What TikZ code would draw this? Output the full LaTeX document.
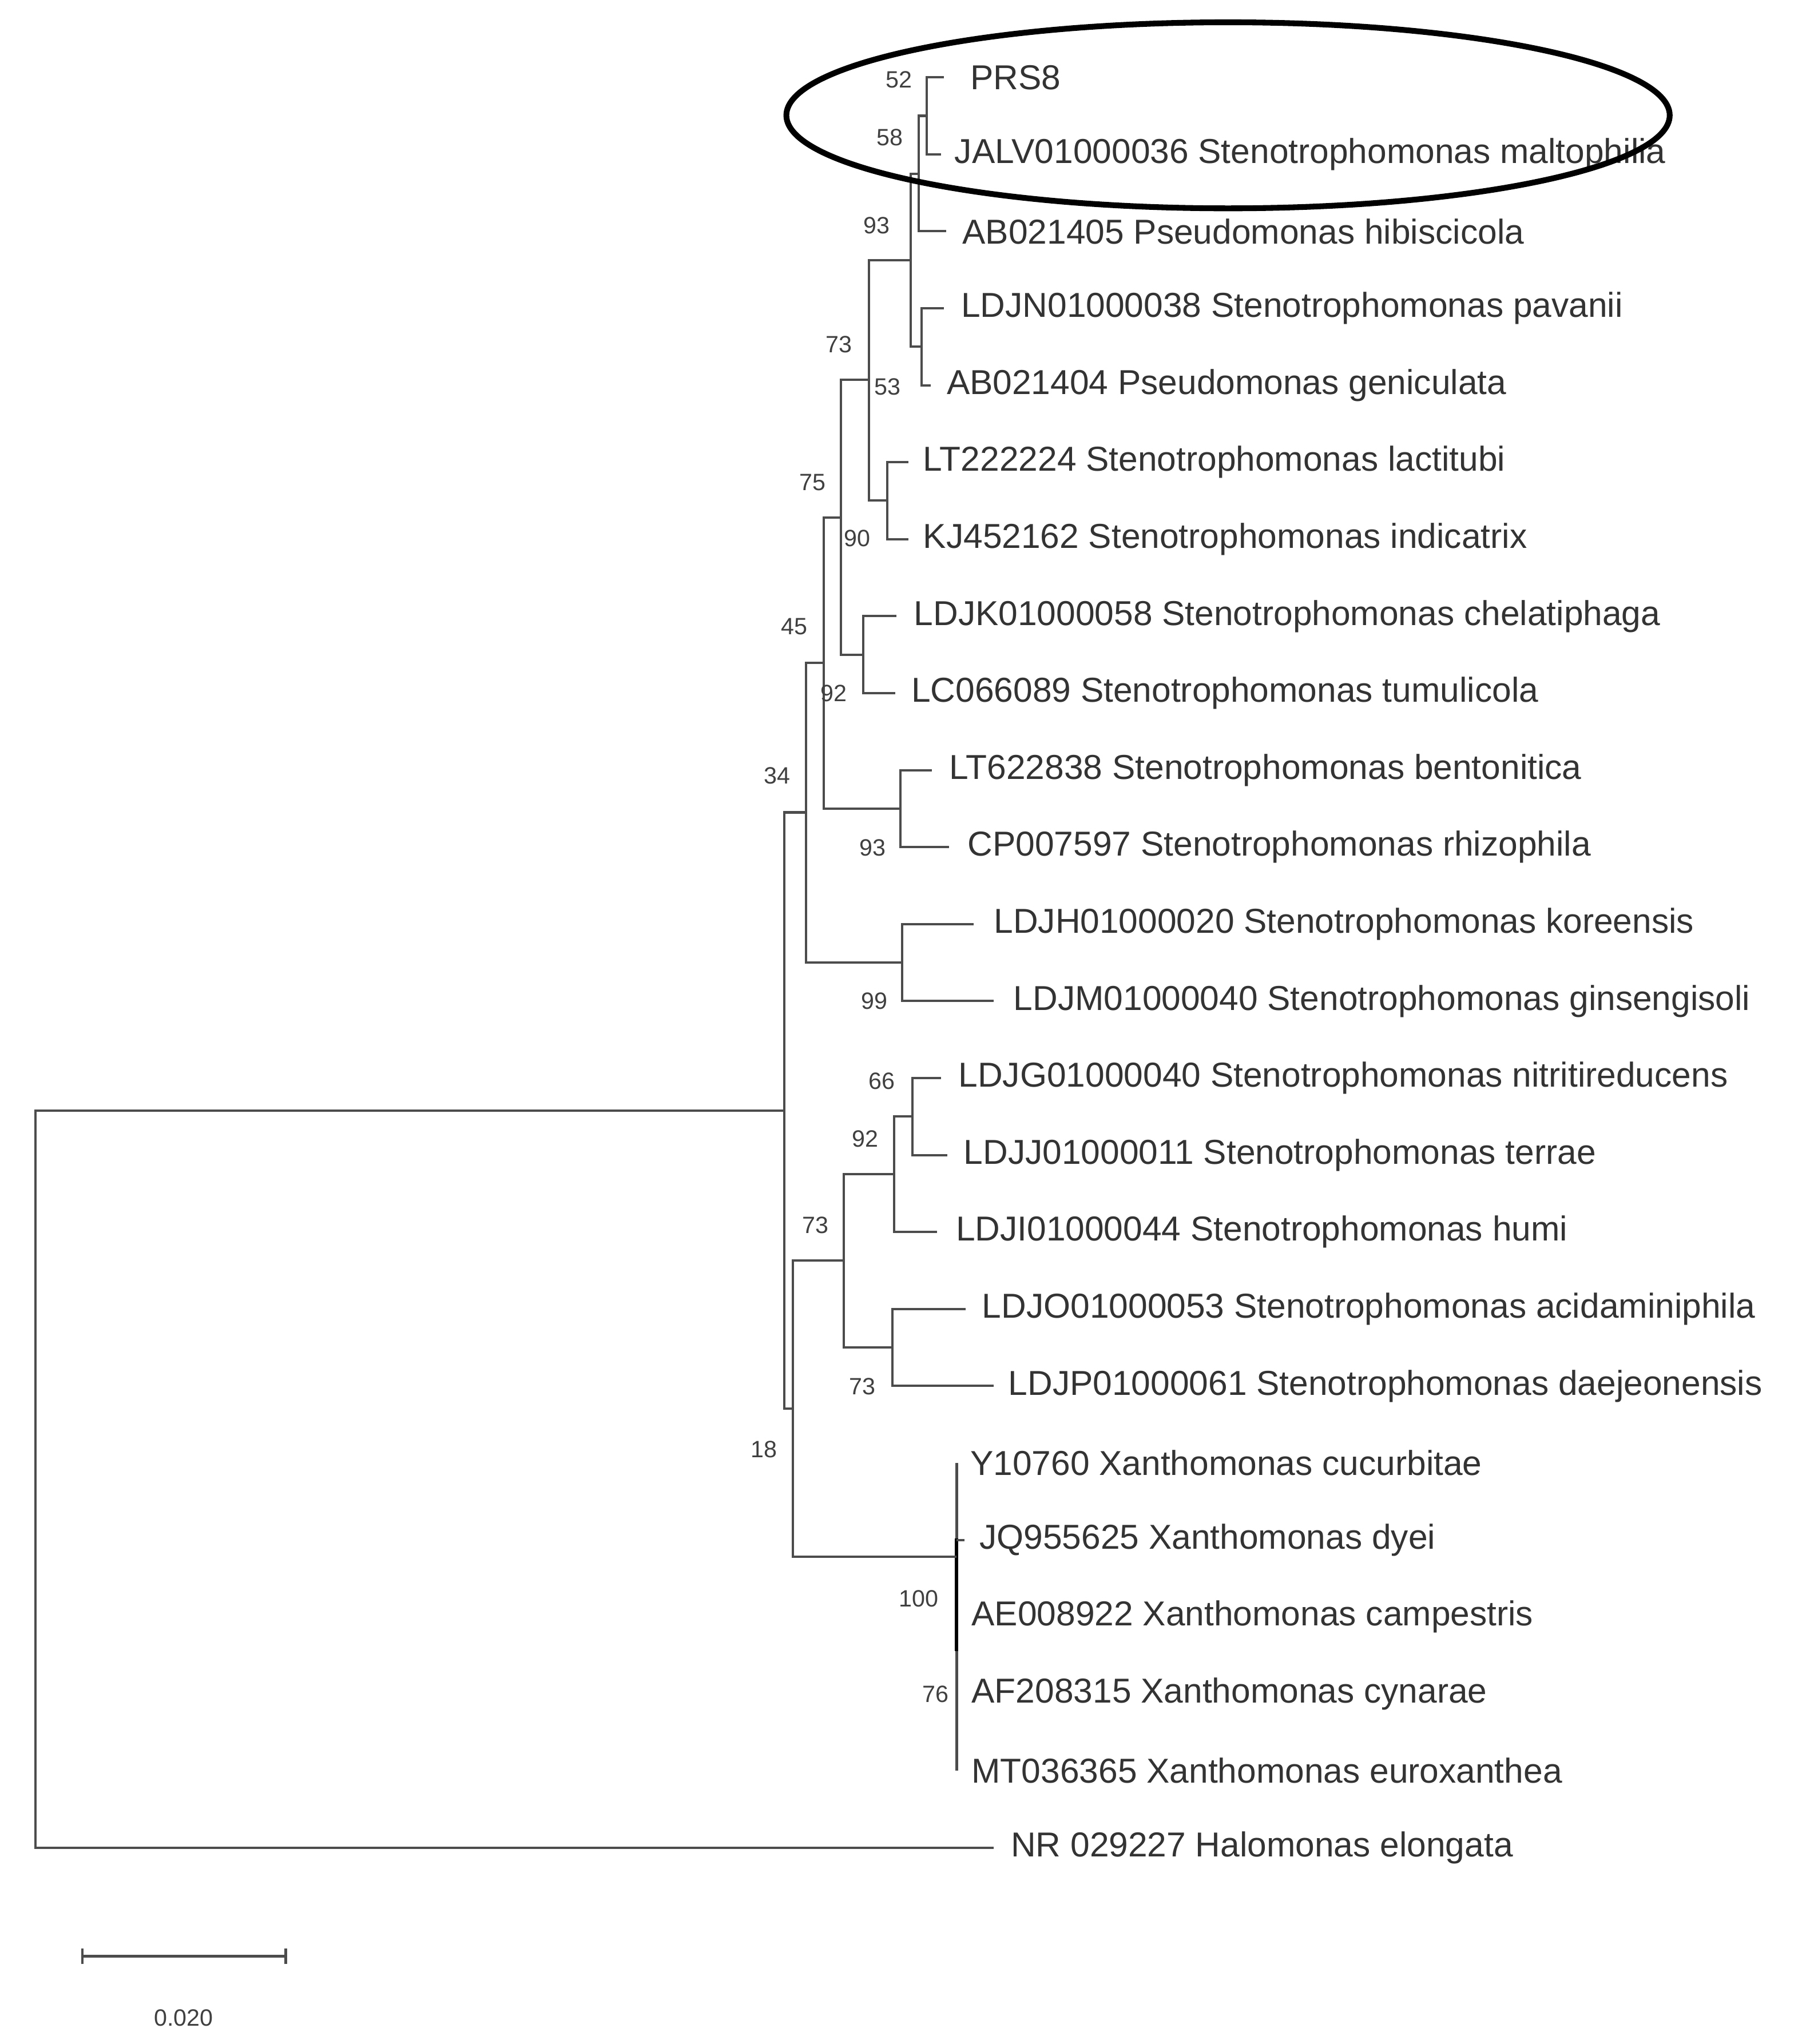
\documentclass[tikz,border=0pt]{standalone}
\usepackage{fontspec}
\setmainfont{Liberation Sans}
\usetikzlibrary{shapes.geometric}
\begin{document}
\begin{tikzpicture}[x=0.5pt,y=-0.5pt,
  br/.style={draw=black!70,line width=0.9pt},
  leaf/.style={anchor=west,inner sep=0pt,font=\fontsize{13.2}{15}\selectfont,text=black!80},
  boot/.style={inner sep=0pt,font=\fontsize{9}{10}\selectfont,text=black!75}]
\useasboundingbox (0,0) rectangle (1384,1560);
\fill[white] (0,0) rectangle (1384,1560);
% leaves
\node[leaf] (l1) at (740,59) {PRS8};
\node[leaf] (l2) at (728,117.75) {JALV01000036 Stenotrophomonas maltophilia};
\node[leaf] (l3) at (734,176.5) {AB021405 Pseudomonas hibiscicola};
\node[leaf] (l4) at (733,235.25) {LDJN01000038 Stenotrophomonas pavanii};
\node[leaf] (l5) at (722,294) {AB021404 Pseudomonas geniculata};
\node[leaf] (l6) at (704,352.75) {LT222224 Stenotrophomonas lactitubi};
\node[leaf] (l7) at (704,411.5) {KJ452162 Stenotrophomonas indicatrix};
\node[leaf] (l8) at (697,470.25) {LDJK01000058 Stenotrophomonas chelatiphaga};
\node[leaf] (l9) at (695,529) {LC066089 Stenotrophomonas tumulicola};
\node[leaf] (l10) at (724,587.75) {LT622838 Stenotrophomonas bentonitica};
\node[leaf] (l11) at (738,646.5) {CP007597 Stenotrophomonas rhizophila};
\node[leaf] (l12) at (758,705.25) {LDJH01000020 Stenotrophomonas koreensis};
\node[leaf] (l13) at (773,764) {LDJM01000040 Stenotrophomonas ginsengisoli};
\node[leaf] (l14) at (731,822.75) {LDJG01000040 Stenotrophomonas nitritireducens};
\node[leaf] (l15) at (735,881.5) {LDJJ01000011 Stenotrophomonas terrae};
\node[leaf] (l16) at (729,940.25) {LDJI01000044 Stenotrophomonas humi};
\node[leaf] (l17) at (749,999) {LDJO01000053 Stenotrophomonas acidaminiphila};
\node[leaf] (l18) at (769,1057.75) {LDJP01000061 Stenotrophomonas daejeonensis};
\node[leaf] (l19) at (740,1116.5) {Y10760 Xanthomonas cucurbitae};
\node[leaf] (l20) at (747,1175.25) {JQ955625 Xanthomonas dyei};
\node[leaf] (l21) at (741,1234) {AE008922 Xanthomonas campestris};
\node[leaf] (l22) at (741,1292.75) {AF208315 Xanthomonas cynarae};
\node[leaf] (l23) at (741,1351.5) {MT036365 Xanthomonas euroxanthea};
\node[leaf] (l24) at (771,1410.25) {NR 029227 Halomonas elongata};
% internal node coordinates
\coordinate (A) at (707,88.4);
\coordinate (B) at (701,132.5);
\coordinate (D) at (703,264.6);
\coordinate (C) at (695,198.5);
\coordinate (F) at (677,382);
\coordinate (E) at (663,290);
\coordinate (H) at (658.5,499.6);
\coordinate (G) at (641.5,395);
\coordinate (J) at (687,617);
\coordinate (I) at (628.6,506);
\coordinate (L) at (688.5,734.6);
\coordinate (K) at (615,620);
\coordinate (R) at (696,852);
\coordinate (P) at (682.4,896);
\coordinate (Q) at (681,1028.4);
\coordinate (O) at (644,962);
\coordinate (X) at (730,1188);
\coordinate (N) at (605,1075);
\coordinate (M) at (598.5,847.5);
\coordinate (Rt) at (27,847.5);
% branches
\draw[br] (720,59) -| (A |- 0,117.75) -- (718,117.75);
\draw[br] (A) -| (B |- 0,176.5) -- (722,176.5);
\draw[br] (720,235.25) -| (D |- 0,294) -- (710,294);
\draw[br] (B) -| (C |- D) -- (D);
\draw[br] (693,352.75) -| (F |- 0,411.5) -- (693,411.5);
\draw[br] (C) -| (E |- F) -- (F);
\draw[br] (684,470.25) -| (H |- 0,529) -- (683,529);
\draw[br] (E) -| (G |- H) -- (H);
\draw[br] (711,587.75) -| (J |- 0,646.5) -- (724,646.5);
\draw[br] (G) -| (I |- J) -- (J);
\draw[br] (743,705.25) -| (L |- 0,764) -- (758,764);
\draw[br] (I) -| (K |- L) -- (L);
\draw[br] (718,822.75) -| (R |- 0,881.5) -- (723,881.5);
\draw[br] (R) -| (P |- 0,940.25) -- (715,940.25);
\draw[br] (737,999) -| (Q |- 0,1057.75) -- (758,1057.75);
\draw[br] (P) -| (O |- Q) -- (Q);
\draw[br] (X |- 0,1116.5) -- (X |- 0,1351.5);
\draw[draw=black,line width=1.3pt] (X |- 0,1174) -- (X |- 0,1260);
\draw[br] (X |- 0,1175.25) -- (736,1175.25);
\draw[br] (O) -| (N |- X) -- (X);
\draw[br] (K) -| (M |- N) -- (N);
\draw[br] (M) -- (Rt) -- (Rt |- 0,1410.25) -- (758,1410.25);
% bootstrap values
\node[boot] at (686,61) {52};
\node[boot] at (679,105) {58};
\node[boot] at (669,172) {93};
\node[boot] at (640,263) {73};
\node[boot] at (677,295) {53};
\node[boot] at (620,368) {75};
\node[boot] at (654,411) {90};
\node[boot] at (606,478) {45};
\node[boot] at (636,529) {92};
\node[boot] at (593,592) {34};
\node[boot] at (666,647) {93};
\node[boot] at (667,764) {99};
\node[boot] at (673,825) {66};
\node[boot] at (660,869) {92};
\node[boot] at (622,935) {73};
\node[boot] at (658,1058) {73};
\node[boot] at (583,1106) {18};
\node[boot] at (701,1220) {100};
\node[boot] at (714,1293) {76};
% scale bar
\coordinate (s1) at (63,1493);
\coordinate (s2) at (218,1493);
\draw[br] (s1) -- (s2);
\draw[br] ([yshift=-3pt]s1) -- ([yshift=3pt]s1);
\draw[br] ([yshift=-3pt]s2) -- ([yshift=3pt]s2);
\node[boot] (sl) at (140,1540) {0.020};
% ellipse
\node[draw=black,line width=2.2pt,ellipse,minimum width=337pt,minimum height=71pt,inner sep=0pt] (ell) at (937,88) {};
\end{tikzpicture}
\end{document}
